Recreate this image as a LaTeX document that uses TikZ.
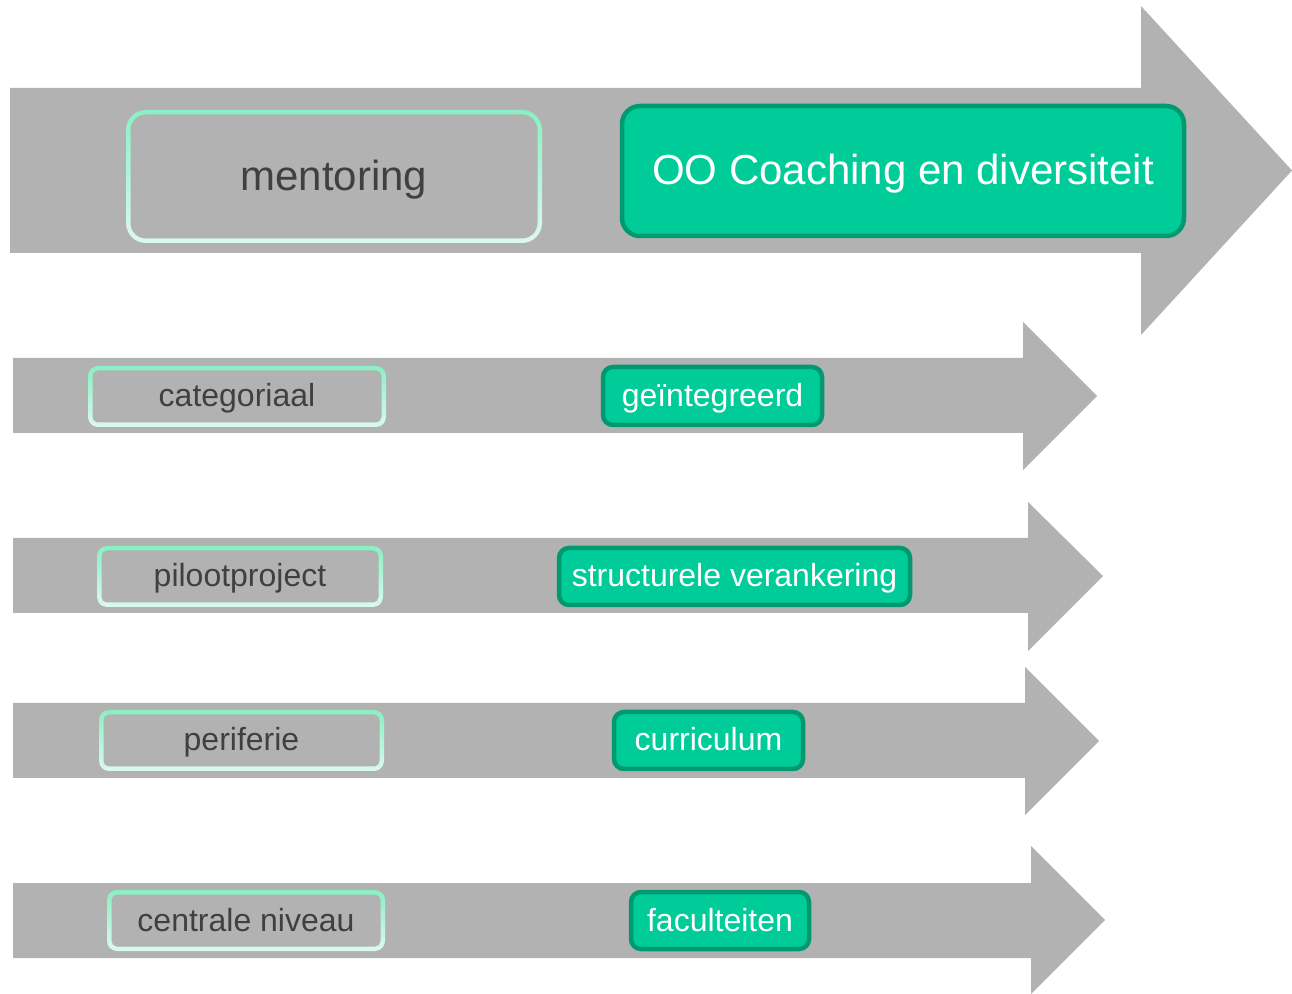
\documentclass[tikz,border=0pt]{standalone}
\usepackage{fontspec}
\setmainfont{Liberation Sans}
\definecolor{arrowgray}{HTML}{B2B2B2}
\definecolor{mintT}{HTML}{88F0C4}
\definecolor{mintB}{HTML}{DCF9EE}
\definecolor{greenF}{HTML}{00CC99}
\definecolor{greenD}{HTML}{009970}
\definecolor{txtgray}{HTML}{404040}
\newcommand\lbox[8]{% name, x1, y1, x2, y2, radius(pt), text, font style
  \shade[top color=mintT,bottom color=mintB,rounded corners=#6] (#2,#3) rectangle (#4,#5);
  \fill[arrowgray,rounded corners=#6-2.25pt] ({#2+4.5},{#3+4.5}) rectangle ({#4-4.5},{#5-4.5});
  \node[ltext,#8] (#1) at ({(#2+#4)/2},{(#3+#5)/2}) {#7};
}
\begin{document}
\begin{tikzpicture}[x=0.5pt,y=-0.5pt,
  arr/.style={fill=arrowgray,draw=none},
  ltext/.style={text=txtgray,inner sep=0pt},
  gbox/.style={fill=greenF,draw=greenD,line width=2.25pt,text=white,inner sep=0pt},
  bigfont/.style={font=\fontsize{21}{25}\selectfont,text height=18.2pt,text depth=4.4pt},
  smallfont/.style={font=\fontsize{16}{19}\selectfont,text height=13.9pt,text depth=3.4pt}]
\useasboundingbox (0,0) rectangle (1292,994);
% arrows
\fill[arr] (10,88) -- (1141,88) -- (1141,6) -- (1292,170.5) -- (1141,335) -- (1141,253) -- (10,253) -- cycle;
\fill[arr] (13,358) -- (1023,358) -- (1023,322) -- (1097,396) -- (1023,470) -- (1023,433) -- (13,433) -- cycle;
\fill[arr] (13,538) -- (1028,538) -- (1028,502) -- (1103,576) -- (1028,651) -- (1028,613) -- (13,613) -- cycle;
\fill[arr] (13,703) -- (1025,703) -- (1025,667) -- (1099,741) -- (1025,815) -- (1025,778) -- (13,778) -- cycle;
\fill[arr] (13,883) -- (1031,883) -- (1031,846) -- (1105,920) -- (1031,994) -- (1031,958) -- (13,958) -- cycle;
% left boxes
\lbox{mentoring}{126}{110}{542}{243}{10pt}{mentoring}{bigfont}
\lbox{categoriaal}{88}{366}{386}{427}{5pt}{categoriaal}{smallfont}
\lbox{pilot}{97}{546}{383}{607}{5pt}{pilootproject}{smallfont}
\lbox{periferie}{99}{710}{384}{771}{5pt}{periferie}{smallfont}
\lbox{centraal}{107}{890}{385}{951}{5pt}{centrale niveau}{smallfont}
% green boxes
\node[gbox,bigfont,minimum width=281pt,minimum height=65pt,rounded corners=9pt] (oo) at (903,171) {OO Coaching en diversiteit};
\node[gbox,smallfont,minimum width=109.5pt,minimum height=29pt,rounded corners=5pt] (geint) at (712.5,396) {geïntegreerd};
\node[gbox,smallfont,minimum width=175.5pt,minimum height=28.5pt,rounded corners=5pt] (struct) at (734.5,576.5) {structurele verankering};
\node[gbox,smallfont,minimum width=94.5pt,minimum height=28.5pt,rounded corners=5pt] (curr) at (708.5,740.5) {curriculum};
\node[gbox,smallfont,minimum width=89pt,minimum height=28.5pt,rounded corners=5pt] (fac) at (720,920.5) {faculteiten};
\end{tikzpicture}
\end{document}
